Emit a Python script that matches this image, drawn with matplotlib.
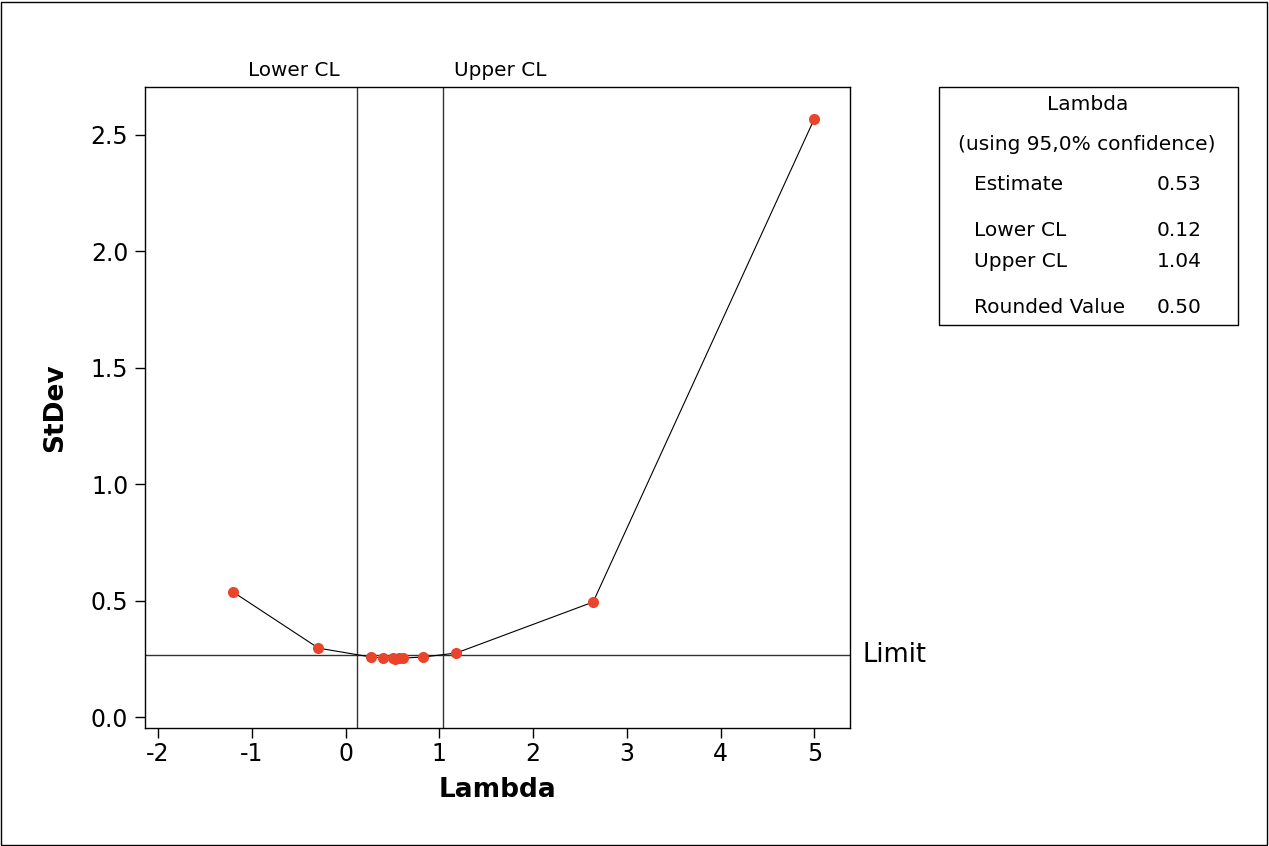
import matplotlib
matplotlib.use("Agg")
import matplotlib.pyplot as plt
from matplotlib.patches import Rectangle

lambdas = [-1.20, -0.29, 0.27, 0.40, 0.50, 0.53, 0.57, 0.61, 0.83, 1.18, 2.64, 5.00]
stdev = [0.537, 0.296, 0.258, 0.254, 0.252, 0.251, 0.252, 0.253, 0.258, 0.275, 0.494, 2.57]
lower_cl = 0.117
upper_cl = 1.04
limit = 0.266
xticks = [-2, -1, 0, 1, 2, 3, 4, 5]
yticks = [0.0, 0.5, 1.0, 1.5, 2.0, 2.5]
legend_rows = [("Estimate", "0.53"), ("Lower CL", "0.12"), ("Upper CL", "1.04"), ("Rounded Value", "0.50")]

plt.rcParams['font.family'] = ['DejaVu Sans']
W, H = 1269, 846
fig = plt.figure(figsize=(W / 100, H / 100), dpi=100)
ax = fig.add_axes([145 / W, 1 - 728 / H, 705 / W, 641 / H])

ax.plot(lambdas, stdev, color='black', lw=0.8, zorder=2)
ax.plot(lambdas, stdev, 'o', color='#E8452C', ms=8, mec='none', zorder=3)
ax.axvline(lower_cl, color='#333333', lw=1, zorder=1)
ax.axvline(upper_cl, color='#333333', lw=1, zorder=1)
ax.axhline(limit, color='#333333', lw=1, zorder=1)

ax.set_xlim(-2.14, 5.38)
ax.set_ylim(-0.047, 2.706)
ax.set_xticks(xticks)
ax.set_xticklabels([str(t) for t in xticks])
ax.set_yticks(yticks)
ax.set_yticklabels([f"{t:.1f}" for t in yticks])
ax.tick_params(direction='out', length=7, width=1, labelsize=17)
ax.tick_params(axis='y', pad=5)
ax.tick_params(axis='x', pad=3)
for s in ax.spines.values():
    s.set_linewidth(1)
ax.set_xlabel("Lambda", fontsize=19, fontweight='bold', labelpad=8)
ax.set_ylabel("StDev", fontsize=19, fontweight='bold', labelpad=16)

ax.annotate("Lower CL", xy=(lower_cl, 1), xycoords=('data', 'axes fraction'),
            xytext=(-12, 5), textcoords='offset points', ha='right', va='bottom', fontsize=14.4)
ax.annotate("Upper CL", xy=(upper_cl, 1), xycoords=('data', 'axes fraction'),
            xytext=(8, 5), textcoords='offset points', ha='left', va='bottom', fontsize=14.4)
ax.annotate("Limit", xy=(1, limit), xycoords=('axes fraction', 'data'),
            xytext=(9, 0), textcoords='offset points', ha='left', va='center', fontsize=18.5)

# legend box
fig.patches.append(Rectangle((939 / W, 1 - 325 / H), 299 / W, 238 / H, transform=fig.transFigure,
                             fill=False, edgecolor='black', lw=1))
fig.text(1088 / W, 1 - 105 / H, "Lambda", ha='center', va='center', fontsize=14.5)
fig.text(1087 / W, 1 - 144 / H, "(using 95,0% confidence)", ha='center', va='center', fontsize=14.5)
ys = [184, 230, 261, 307]
for (lab, val), y in zip(legend_rows, ys):
    fig.text(974 / W, 1 - y / H, lab, ha='left', va='center', fontsize=14.5)
    fig.text(1157 / W, 1 - y / H, val, ha='left', va='center', fontsize=14.5)

# outer border
fig.patches.append(Rectangle((1 / W, 1 / H), (W - 3) / W, (H - 3) / H, transform=fig.transFigure,
                             fill=False, edgecolor='black', lw=1))

fig.savefig("out.png", dpi=100)
